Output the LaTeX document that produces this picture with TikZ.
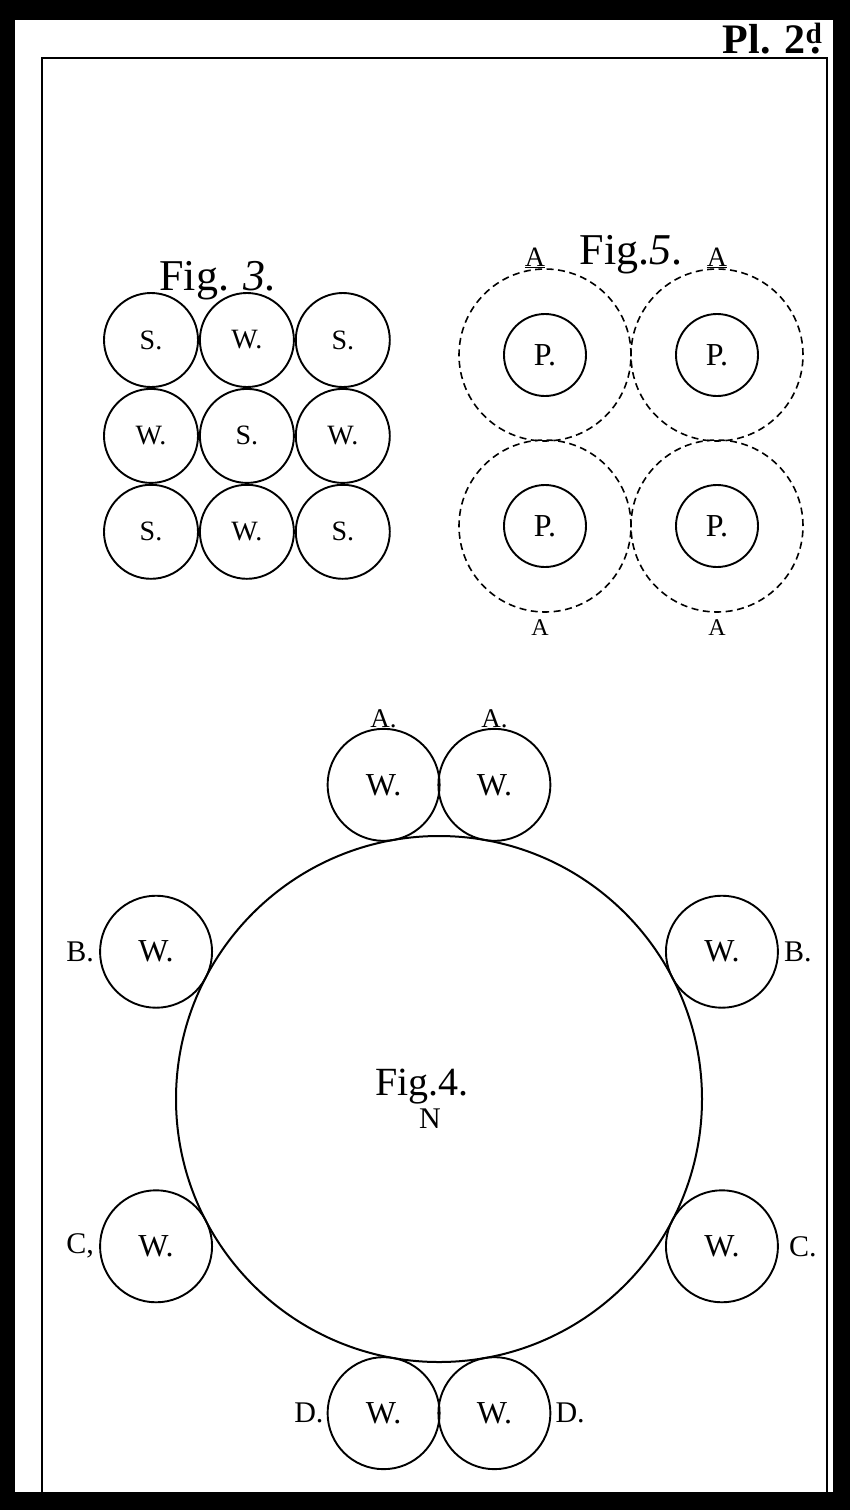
\documentclass[tikz,border=0pt]{standalone}
\usepackage{fontspec}
\setmainfont{Liberation Serif}
\usetikzlibrary{positioning, calc}

\newcommand{\fsz}[1]{\fontsize{#1}{#1}\selectfont}

\begin{document}
\begin{tikzpicture}[x=1pt, y=-1pt,
    node distance=0pt and 0pt,
    cell/.style={circle, draw, line width=1.9pt, minimum size=94pt,
                 inner sep=0pt, font=\fsz{28}},
    pole/.style={circle, draw, line width=1.9pt, minimum size=82pt,
                 inner sep=0pt, font=\fsz{32}},
    orb/.style={circle, draw, dash pattern=on 7pt off 4.5pt,
                line width=1.6pt, minimum size=172pt, inner sep=0pt},
    globe/.style={circle, draw, line width=2pt, minimum size=526pt,
                  inner sep=0pt},
    wheel/.style={circle, draw, line width=1.9pt, minimum size=112pt,
                  inner sep=0pt, font=\fsz{32}},
    tag/.style={inner sep=0pt, font=\fsz{30}},
    title/.style={inner sep=0pt, font=\fsz{44}},
    frame/.style={line width=2.2pt}
  ]
  % page and plate border
  \fill[black] (0,0) rectangle (850,1510);
  \fill[white] (15,20) rectangle (833,1492);
  \useasboundingbox (0,0) rectangle (850,1510);
  \draw[frame] (42,1492) -- (42,58) -- (827,58) -- (827,1492);
  \node[title, font=\fsz{42}\bfseries, anchor=base east] (plate) at (834,53)
    {Pl. 2\rlap{\textsuperscript{d}}\kern0.12em.\kern0.3em};

  % Fig. 3
  \node[title, anchor=base] (fig3) at (218,290) {Fig. \textit{3.}};
  \node[cell] (c11) at (151,340) {S.};
  \node[cell, right=of c11] (c12) {W.};
  \node[cell, right=of c12] (c13) {S.};
  \node[cell, below=of c11] (c21) {W.};
  \node[cell, right=of c21] (c22) {S.};
  \node[cell, right=of c22] (c23) {W.};
  \node[cell, below=of c21] (c31) {S.};
  \node[cell, right=of c31] (c32) {W.};
  \node[cell, right=of c32] (c33) {S.};

  % Fig. 5
  \node[orb] (o1) at (545,355) {};
  \node[orb] (o2) at (717,355) {};
  \node[orb] (o3) at (545,526) {};
  \node[orb] (o4) at (717,526) {};
  \node[pole] (p1) at (o1) {P.};
  \node[pole] (p2) at (o2) {P.};
  \node[pole] (p3) at (o3) {P.};
  \node[pole] (p4) at (o4) {P.};
  \node[title, anchor=base] (fig5) at (631,264) {Fig.\textit{5}.};
  \node[tag, font=\fsz{28}, above=0pt of o1, xshift=-10pt] (a1) {\underline{A}};
  \node[tag, font=\fsz{28}, above=0pt of o2] (a2) {\underline{A}};
  \node[tag, font=\fsz{24}, below=7pt of o3, xshift=-5pt] (a3) {A};
  \node[tag, font=\fsz{24}, below=7pt of o4] (a4) {A};

  % Fig. 4
  \node[globe] (globe) at (439,1099) {};
  \node[wheel] (wa1) at ($(globe.center)+(-100:319)$) {W.};
  \node[wheel] (wa2) at ($(globe.center)+(-80:319)$)  {W.};
  \node[wheel] (wb1) at ($(globe.center)+(207.5:319)$) {W.};
  \node[wheel] (wb2) at ($(globe.center)+(-27.5:319)$) {W.};
  \node[wheel] (wc1) at ($(globe.center)+(152.5:319)$) {W.};
  \node[wheel] (wc2) at ($(globe.center)+(27.5:319)$)  {W.};
  \node[wheel] (wd1) at ($(globe.center)+(100:319)$) {W.};
  \node[wheel] (wd2) at ($(globe.center)+(80:319)$)  {W.};

  \node[tag, font=\fsz{27}, above=0pt of wa1] (la1) {A.};
  \node[tag, font=\fsz{27}, above=0pt of wa2] (la2) {A.};
  \node[tag, left=5pt of wb1]   (lb1) {B.};
  \node[tag, right=5pt of wb2]  (lb2) {B.};
  \node[tag, left=5pt of wc1]   (lc1) {C,};
  \node[tag, right=10pt of wc2] (lc2) {C.};
  \node[tag, left=3pt of wd1]   (ld1) {D.};
  \node[tag, right=4pt of wd2]  (ld2) {D.};

  \node[title, font=\fsz{40}, anchor=base] (fig4) at (422,1095) {Fig.4.};
  \node[tag, anchor=base] (north) at (430,1128) {N};
\end{tikzpicture}
\end{document}
